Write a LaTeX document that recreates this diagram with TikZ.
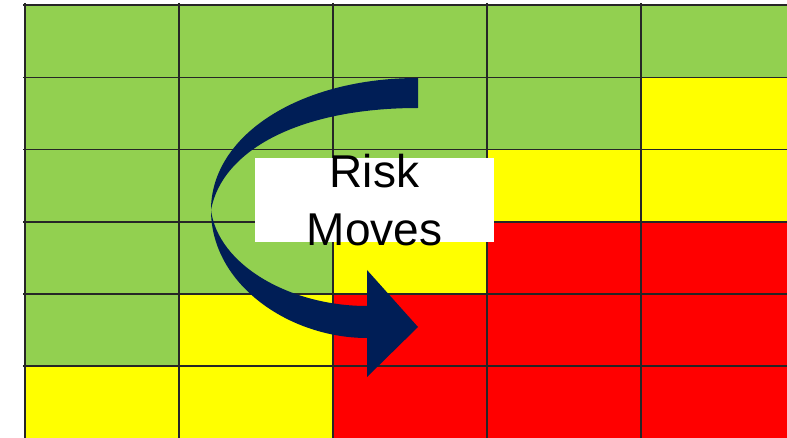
\documentclass[tikz,border=0pt]{standalone}
\usepackage{fontspec}
\setmainfont{Liberation Sans}
\definecolor{cgreen}{HTML}{92D050}
\definecolor{cyellow}{HTML}{FFFF00}
\definecolor{cred}{HTML}{FF0000}
\definecolor{cnavy}{RGB}{0,30,86}
\tikzset{
  G/.style={fill=cgreen},
  Y/.style={fill=cyellow},
  R/.style={fill=cred},
  gridline/.style={draw=black!85, line width=1.1pt},
  label/.style={font=\fontsize{46}{54}\selectfont, text=black, anchor=base, inner sep=0pt}
}
\begin{document}
\begin{tikzpicture}[x=1pt,y=-1pt]
\useasboundingbox (0,0) rectangle (787,438);
\clip (0,0) rectangle (787,438);
% cells
\def\xa{25}\def\xb{179}\def\xc{333}\def\xd{487}\def\xe{641}\def\xf{795}
\def\ya{5}\def\yb{77.3}\def\yc{149.7}\def\yd{222}\def\ye{294}\def\yf{366}\def\yg{438}
% row 1
\fill[G] (\xa,\ya) rectangle (\xf,\yb);
% row 2
\fill[G] (\xa,\yb) rectangle (\xe,\yc);
\fill[Y] (\xe,\yb) rectangle (\xf,\yc);
% row 3
\fill[G] (\xa,\yc) rectangle (\xd,\yd);
\fill[Y] (\xd,\yc) rectangle (\xf,\yd);
% row 4
\fill[G] (\xa,\yd) rectangle (\xc,\ye);
\fill[Y] (\xc,\yd) rectangle (\xd,\ye);
\fill[R] (\xd,\yd) rectangle (\xf,\ye);
% row 5
\fill[G] (\xa,\ye) rectangle (\xb,\yf);
\fill[Y] (\xb,\ye) rectangle (\xc,\yf);
\fill[R] (\xc,\ye) rectangle (\xf,\yf);
% row 6
\fill[Y] (\xa,\yf) rectangle (\xc,\yg);
\fill[R] (\xc,\yf) rectangle (\xf,\yg);
% grid lines
\foreach \x in {\xa,\xb,\xc,\xd,\xe}{
  \draw[gridline] (\x,3) -- (\x,\yg);
}
\foreach \y in {\ya,\yb,\yc,\yd,\ye,\yf}{
  \draw[gridline] (23,\y) -- (\xf,\y);
}
% curved arrow
\fill[cnavy] (418,78)
  .. controls (300,78) and (211,135) .. (211,210)
  .. controls (211,285) and (290,338) .. (367,338)
  -- (367,377) -- (418,327) -- (367,270) -- (367,306)
  .. controls (290,306) and (218,265) .. (211,210)
  .. controls (222,150) and (300,108) .. (418,108)
  -- cycle;
% text box
\node[fill=white, inner sep=0pt, minimum width=239pt, minimum height=84pt] (box) at (374.5,200) {};
\node[label] (risk) at (374.5,188) {Risk};
\node[label] (moves) at (374.5,246) {Moves};
\end{tikzpicture}
\end{document}
